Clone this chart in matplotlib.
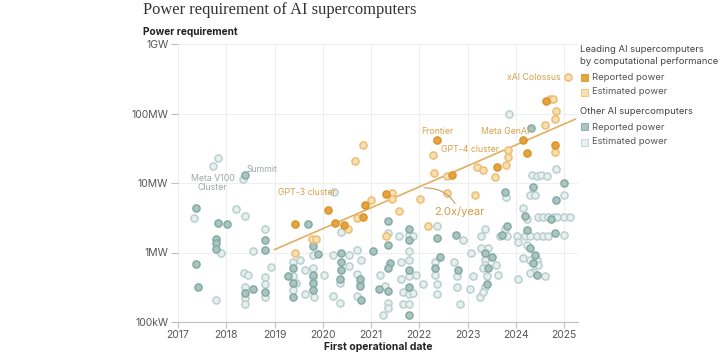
import matplotlib
matplotlib.use("Agg")
import matplotlib.pyplot as plt
from matplotlib.patches import Rectangle
import numpy as np

plt.rcParams['font.family'] = ['Inter', 'DejaVu Sans']

# ---------------- data (year, MW) ----------------
lead_rep_year = [2019.42, 2020.10, 2020.25, 2020.43, 2020.84, 2020.88, 2021.32, 2022.36, 2022.67,
                 2023.62, 2024.14, 2024.23, 2024.81, 2024.63]
lead_rep_mw = [2.6, 4.1, 2.7, 2.5, 3.2, 4.8, 6.9, 41.6, 13, 17, 41, 27, 35, 153]

lead_est_year = [2019.42, 2019.78, 2019.87, 2020.53, 2020.70, 2021.01, 2021.43, 2021.43, 2021.59,
                 2021.32, 2020.84, 2020.67, 2022.02, 2022.19, 2022.28, 2022.31, 2022.58, 2022.57,
                 2023.16, 2023.19, 2023.33, 2023.57, 2023.80, 2023.83, 2023.83, 2024.61, 2024.70,
                 2024.78, 2024.83, 2024.81, 2024.81, 2025.09]
lead_est_mw = [0.98, 1.59, 1.55, 2.2, 3.1, 5.7, 7.1, 5.8, 3.9,
               1.7, 35, 21, 5.9, 2.4, 25, 13.7, 7.1, 12.6,
               6.7, 17, 15.4, 12, 18.4, 30, 24, 68, 160,
               160, 109, 83, 28, 330]

other_rep_year = [2018.39, 2017.38, 2017.83, 2018.02, 2017.79, 2017.79, 2017.79, 2018.80, 2018.80,
                  2017.38, 2017.41, 2018.56, 2018.80, 2018.38, 2019.28, 2019.38, 2019.38, 2019.38,
                  2019.70, 2019.79, 2019.91, 2019.79, 2019.79, 2019.79, 2020.38, 2020.38, 2020.37,
                  2020.36, 2020.77, 2020.77, 2020.79, 2021.05, 2021.17, 2021.36, 2021.36, 2021.40,
                  2021.36, 2021.36, 2021.79, 2021.79, 2021.79, 2021.79, 2021.79, 2022.36, 2022.43,
                  2022.33, 2022.77, 2022.81, 2023.36, 2023.50, 2023.43, 2023.40, 2023.71, 2023.81,
                  2023.78, 2024.32, 2024.36, 2024.20, 2024.24, 2024.74, 2024.83, 2024.99, 2024.81,
                  2024.40, 2024.36, 2024.43, 2024.30]
other_rep_mw = [13, 4.4, 2.7, 2.55, 1.55, 1.38, 1.12, 1.5, 1.1,
                0.68, 0.32, 0.30, 0.27, 0.26, 0.46, 0.60, 0.37, 0.23,
                2.6, 1.23, 0.95, 0.47, 0.37, 0.29, 1.0, 0.72, 0.56,
                0.41, 0.41, 0.33, 0.21, 1.04, 0.30, 2.8, 1.27, 0.70,
                0.60, 0.28, 2.2, 1.5, 0.56, 0.32, 0.127, 1.6, 0.86,
                0.60, 1.8, 0.56, 1.0, 0.86, 0.60, 0.35, 1.8, 2.4,
                7.5, 62, 8.9, 3.3, 2.1, 3.0, 5.7, 9.9, 1.9,
                0.92, 0.70, 0.47, 1.15]

other_est_year = [2017.83, 2017.73, 2018.35, 2017.33, 2018.20, 2018.38, 2017.90, 2018.80, 2018.55,
                  2018.92, 2017.79, 2018.37, 2018.46, 2018.38, 2018.38, 2018.38, 2018.80, 2018.80,
                  2018.80, 2019.38, 2019.38, 2019.38, 2019.45, 2019.53, 2019.63, 2019.63, 2019.79,
                  2019.79, 2019.82, 2019.80, 2020.03, 2020.21, 2020.21, 2020.23, 2020.38, 2020.36,
                  2020.36, 2020.55, 2020.54, 2020.72, 2020.70, 2020.70, 2020.79, 2020.77, 2021.19,
                  2021.29, 2021.36, 2021.36, 2021.36, 2021.25, 2021.59, 2021.63, 2021.63, 2021.66,
                  2021.66, 2021.79, 2021.79, 2021.79, 2021.79, 2021.79, 2021.79, 2021.88, 2021.88,
                  2021.93, 2022.08, 2022.36, 2022.33, 2022.33, 2022.36, 2022.36, 2022.73, 2022.78,
                  2022.78, 2022.84, 2022.91, 2023.05, 2023.08, 2023.12, 2023.26, 2023.29, 2023.29,
                  2023.36, 2023.36, 2023.36, 2023.33, 2023.40, 2023.36, 2023.33, 2023.43, 2023.60,
                  2023.64, 2023.78, 2023.81, 2023.67, 2023.80, 2023.87, 2024.02, 2024.05, 2024.05,
                  2024.16, 2024.16, 2024.20, 2024.24, 2024.24, 2024.30, 2024.40, 2024.30, 2024.30,
                  2024.33, 2024.43, 2024.53, 2024.64, 2024.43, 2024.43, 2024.47, 2024.47, 2024.57,
                  2024.57, 2024.67, 2024.67, 2024.78, 2024.83, 2024.85, 2024.99, 2024.99, 2024.99,
                  2025.12, 2024.36, 2024.30, 2024.60]
other_est_mw = [23, 17.6, 11.5, 3.1, 4.2, 3.35, 1.0, 2.16, 1.05,
                0.61, 0.21, 0.51, 0.48, 0.32, 0.22, 0.18, 0.45, 0.35,
                0.23, 0.73, 0.46, 0.29, 0.36, 0.78, 0.56, 0.25, 0.60,
                0.44, 0.23, 0.92, 0.47, 0.92, 0.24, 7.3, 2.0, 0.19,
                0.37, 0.92, 0.64, 1.1, 0.49, 0.24, 0.79, 0.37, 0.47,
                0.33, 1.9, 0.19, 0.16, 0.127, 1.7, 0.73, 0.41, 0.27,
                0.18, 1.8, 1.05, 0.78, 0.46, 0.25, 0.18, 1.7, 0.26,
                0.48, 0.35, 2.4, 0.74, 0.47, 0.35, 0.25, 0.74, 0.46,
                0.32, 0.18, 1.5, 0.30, 0.98, 0.46, 0.23, 1.7, 1.15,
                2.2, 0.78, 0.67, 0.60, 0.46, 0.32, 0.27, 1.15, 0.67,
                0.47, 2.2, 1.7, 1.7, 6.3, 98, 1.7, 1.4, 0.41,
                4.3, 0.83, 1.7, 1.3, 3.0, 6.7, 6.7, 1.7, 0.79,
                13, 12.6, 13, 12.6, 1.7, 0.79, 3.2, 0.67, 3.2,
                1.7, 3.2, 1.7, 3.2, 16, 3.2, 6.7, 3.2, 1.8,
                3.2, 0.53, 0.50, 0.46]

# trend: 2.0x per year
trend_years = [2019.0, 2025.23]
trend_start_mw = 1.1
trend_growth = 2.0

y_ticks_mw = [0.1, 1, 10, 100, 1000]
y_tick_labels = ['100kW', '1MW', '10MW', '100MW', '1GW']
x_ticks = list(range(2017, 2026))

# (text, x, y, kind, ha)
named_labels = [
    ('Meta V100\nCluster', 2017.72, 10.0, 'other', 'center'),
    ('Summit', 2018.42, 15.5, 'other', 'left'),
    ('GPT-3 cluster', 2019.07, 7.3, 'lead', 'left'),
    ('Frontier', 2022.05, 55, 'lead', 'left'),
    ('GPT-4 cluster', 2022.45, 30, 'lead', 'left'),
    ('Meta GenAI', 2023.27, 55, 'lead', 'left'),
    ('xAI Colossus', 2024.93, 330, 'lead', 'right'),
]

# ---------------- styles ----------------
OR_REP_FC, OR_REP_EC = '#E8A43C', '#D8952E'
OR_EST_FC, OR_EST_EC = '#F7E0B6', '#EEBD70'
TE_REP_FC, TE_REP_EC = '#A9C5C1', '#86A9A4'
TE_EST_FC, TE_EST_EC = '#E8F0EF', '#B9D0CD'
ORANGE_TXT = '#D9A04A'
GRAY_TXT = '#A0A6A6'

fig = plt.figure(figsize=(7.2, 3.53), dpi=100)
ax = fig.add_axes([178/720, 31/353, 400/720, 278/353])

ax.set_yscale('log')
ax.set_xlim(2017, 2025.29)
ax.set_ylim(0.1, 1000)

ms = 26
lw = 1.1
ax.scatter(other_est_year, other_est_mw, s=ms, facecolor=TE_EST_FC, edgecolor=TE_EST_EC, linewidth=lw, zorder=3)
ax.scatter(other_rep_year, other_rep_mw, s=ms, facecolor=TE_REP_FC, edgecolor=TE_REP_EC, linewidth=lw, zorder=3)

ty = np.array(trend_years)
tv = trend_start_mw * trend_growth ** (ty - trend_years[0])
ax.plot(ty, tv, color='#E2AE62', lw=1.2, zorder=4)

ax.scatter(lead_est_year, lead_est_mw, s=ms, facecolor=OR_EST_FC, edgecolor=OR_EST_EC, linewidth=lw, zorder=5)
ax.scatter(lead_rep_year, lead_rep_mw, s=ms, facecolor=OR_REP_FC, edgecolor=OR_REP_EC, linewidth=lw, zorder=5)

# annotation 2.0x/year
ann_year = 2022.1
ann_val = trend_start_mw * trend_growth ** (ann_year - trend_years[0])
ax.annotate('2.0x/year', xy=(ann_year, ann_val * 0.9), xytext=(2022.3, 3.9),
            fontsize=8, color='#D49A45', va='center', ha='left',
            arrowprops=dict(arrowstyle='-', color='#C99A5A', lw=0.8,
                            connectionstyle='arc3,rad=0.35', shrinkA=0, shrinkB=0), zorder=6)

for txt, x, y, kind, ha in named_labels:
    col = GRAY_TXT if kind == 'other' else ORANGE_TXT
    ax.text(x, y, txt, fontsize=6.3, color=col, ha=ha, va='center', linespacing=0.95, zorder=6)

# grid & axes styling
ax.set_xticks(x_ticks)
ax.set_xticklabels([str(t) for t in x_ticks])
ax.set_yticks(y_ticks_mw)
ax.set_yticklabels(y_tick_labels)
ax.yaxis.set_minor_locator(matplotlib.ticker.NullLocator())
ax.grid(True, color='#EFEFEF', lw=0.8, zorder=0)
ax.set_axisbelow(True)
for s in ['top', 'right', 'left']:
    ax.spines[s].set_visible(False)
ax.spines['bottom'].set_color('#BFBFBF')
ax.spines['bottom'].set_linewidth(0.8)
ax.tick_params(axis='x', colors='#BFBFBF', labelcolor='#555555', labelsize=7.5, length=4, width=0.8, pad=2)
ax.tick_params(axis='y', colors='#BFBFBF', labelcolor='#555555', labelsize=7.5, length=5, width=0.8, pad=2)

ax.set_xlabel('First operational date', fontsize=7.5, fontweight='bold', color='#222222', labelpad=1)

fig.text(143/720, 1 - 10/353, 'Power requirement of AI supercomputers', family='Liberation Serif',
         fontsize=11.9, color='#333333', va='center', ha='left')
fig.text(143/720, 1 - 32/353, 'Power requirement', fontsize=7.3, fontweight='bold', color='#222222',
         va='center', ha='left')

# legend (manual)
lx = 580/720
LFS = 6.8
def fy(py):
    return 1 - py/353
fig.text(lx, fy(50), 'Leading AI supercomputers', fontsize=LFS, color='#444444', va='center')
fig.text(lx, fy(62), 'by computational performance', fontsize=LFS, color='#444444', va='center')
fig.text(lx, fy(111), 'Other AI supercomputers', fontsize=LFS, color='#444444', va='center')
items = [(77, OR_REP_FC, OR_REP_EC, 'Reported power'),
         (92, OR_EST_FC, OR_EST_EC, 'Estimated power'),
         (127, TE_REP_FC, TE_REP_EC, 'Reported power'),
         (142, TE_EST_FC, TE_EST_EC, 'Estimated power')]
for py, fc, ec, lab in items:
    fig.add_artist(Rectangle((581/720, fy(py + 3.5)), 7/720, 7/353, transform=fig.transFigure,
                             facecolor=fc, edgecolor=ec, lw=0.6))
    fig.text(592/720, fy(py), lab, fontsize=LFS, color='#555555', va='center')

fig.savefig('out.png', dpi=100)
